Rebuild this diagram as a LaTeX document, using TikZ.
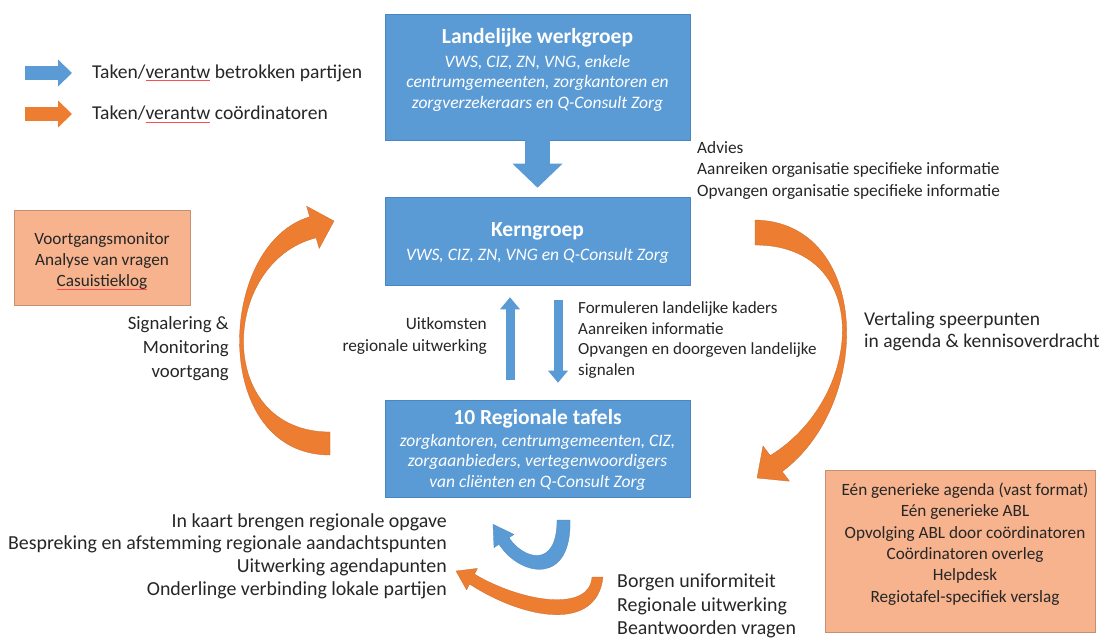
\documentclass[tikz,border=0pt]{standalone}
\usepackage{fontspec}
\setmainfont{Carlito}
\usetikzlibrary{arrows.meta,positioning}
\definecolor{kblue}{HTML}{5B9BD5}
\definecolor{kblueline}{HTML}{4A86C0}
\definecolor{korange}{HTML}{ED7D31}
\definecolor{ksalmon}{HTML}{F6B38E}
\definecolor{ktext}{HTML}{262626}
\newcommand{\spellmark}[1]{\setbox0=\hbox{#1}\rlap{\textcolor{red!70}{\rule[-3pt]{\wd0}{0.7pt}}}\box0\relax}
\tikzset{
  bluebox/.style={rectangle, draw=kblueline, line width=0.6pt, fill=kblue, minimum width=305pt, inner sep=0pt},
  boxtitle/.style={text=white, inner sep=0pt, font=\fontsize{21.5}{25}\selectfont\bfseries},
  boxsub/.style={text=white, align=center, inner sep=0pt, font=\fontsize{17.5}{20.5}\selectfont\itshape},
  salmonbox/.style={rectangle, draw=ksalmon!80!black, line width=0.4pt, fill=ksalmon, inner sep=0pt},
  salmontext/.style={text=ktext, align=center, inner sep=0pt, font=\fontsize{17.2}{21.3}\selectfont},
  smalltext/.style={text=ktext, inner sep=0pt, font=\fontsize{17.3}{21.5}\selectfont},
  bigtext/.style={text=ktext, inner sep=0pt, font=\fontsize{19.6}{23}\selectfont},
  bluearrow/.style={draw=kblue},
  orangearrow/.style={draw=korange},
  bluearc/.style={fill=kblue, draw=kblueline, line width=0.3pt},
  orangearc/.style={fill=korange, draw=korange!85!black, line width=0.3pt}
}

\begin{document}
\begin{tikzpicture}[x=1pt,y=-1pt]
\useasboundingbox (0,0) rectangle (1102,638);

% legenda
\coordinate (legblue-a) at (25,73);
\coordinate (legblue-b) at (72,73);
\coordinate (legorange-a) at (25,114);
\coordinate (legorange-b) at (72,114);
\draw[bluearrow, line width=14pt, -{Triangle[width=27pt,length=14pt,line width=0pt]}] (legblue-a) -- (legblue-b);
\draw[orangearrow, line width=14pt, -{Triangle[width=27pt,length=14pt,line width=0pt]}] (legorange-a) -- (legorange-b);
\node[bigtext, anchor=west, right=20pt of legblue-b] (legblue-t) {Taken/\spellmark{verantw} betrokken partijen};
\node[bigtext, anchor=west, right=20pt of legorange-b] (legorange-t) {Taken/\spellmark{verantw} coördinatoren};

% blauwe blokken
\node[bluebox, minimum height=126pt] (werkgroep) at (537.5,77) {};
\node[boxtitle] (werkgroep-t) at (537.5,38) {Landelijke werkgroep};
\node[boxsub] (werkgroep-s) at (537.5,83) {VWS, CIZ, ZN, VNG, enkele\\centrumgemeenten, zorgkantoren en\\zorgverzekeraars en Q-Consult Zorg};

\node[bluebox, minimum height=88pt] (kerngroep) at (537.5,241) {};
\node[boxtitle] (kerngroep-t) at (537.5,231) {Kerngroep};
\node[boxsub] (kerngroep-s) at (537.5,256) {VWS, CIZ, ZN, VNG en Q-Consult Zorg};

\node[bluebox, minimum height=97pt] (regio) at (537.5,448.5) {};
\node[boxtitle] (regio-t) at (537.5,419) {10 Regionale tafels};
\node[boxsub] (regio-s) at (537.5,462) {zorgkantoren, centrumgemeenten, CIZ,\\zorgaanbieders, vertegenwoordigers\\van cliënten en Q-Consult Zorg};

% oranje blokken
\node[salmonbox, minimum width=176pt, minimum height=95pt] (monitor) at (102,257.5) {};
\node[salmontext] (monitor-t) at (102,261) {Voortgangsmonitor\\Analyse van vragen\\\spellmark{Casuistieklog}};

\node[salmonbox, minimum width=270pt, minimum height=162pt] (afspraken) at (960,551) {};
\node[salmontext] (afspraken-t) at (965,544) {Eén generieke agenda (vast format)\\Eén generieke ABL\\Opvolging ABL door coördinatoren\\Coördinatoren overleg\\Helpdesk\\Regiotafel-specifiek verslag};

% rechte pijlen
\draw[bluearrow, line width=25pt, -{Triangle[width=50pt,length=24pt,line width=0pt]}, shorten >=9pt] (werkgroep.south) -- (kerngroep.north);
\draw[bluearrow, line width=9pt, -{Triangle[width=20pt,length=12pt,line width=0pt]}, shorten <=20pt, shorten >=12pt] ([xshift=-27.5pt]regio.north) -- ([xshift=-27.5pt]kerngroep.south);
\draw[bluearrow, line width=9pt, -{Triangle[width=20pt,length=12pt,line width=0pt]}, shorten <=15pt, shorten >=17pt] ([xshift=20.5pt]kerngroep.south) -- ([xshift=20.5pt]regio.north);

% gebogen pijlen
\filldraw[orangearc] (330,455) .. controls (210,455) and (215.8,244.9) .. (309.7,216.8)
  -- (306.6,206.2) -- (334,221) -- (319.2,248.4) -- (316.1,237.8)
  .. controls (220,262) and (214,432) .. (330,432) -- cycle;
\filldraw[orangearc] (755,220) .. controls (870,222) and (874.2,402.6) .. (782.2,471.6)
  -- (789.4,481.2) -- (757,478) -- (763,446) -- (770.2,455.6)
  .. controls (864,398) and (874,245) .. (755,245) -- cycle;
\filldraw[bluearc] (570,520) .. controls (572,585) and (521,577.7) .. (499,544.3)
  -- (494,547.6) -- (493,524.3) -- (514,534.4) -- (509,537.7)
  .. controls (522.75,558.6) and (557,570) .. (557,520) -- cycle;
\filldraw[orangearc] (603,577) .. controls (597,632) and (525,620) .. (469.5,584)
  -- (466.6,589.8) -- (456,571) -- (477.4,568.4) -- (474.5,574.2)
  .. controls (523.5,603) and (590,612) .. (592,577) -- cycle;

% teksten
\node[smalltext, anchor=west, align=left] (advies) at (697,170) {Advies\\Aanreiken organisatie specifieke informatie\\Opvangen organisatie specifieke informatie};
\node[smalltext, anchor=east, align=right] (uitkomsten) at (487,336) {Uitkomsten\\regionale uitwerking};
\node[smalltext, anchor=west, align=left, font=\fontsize{17}{20.7}\selectfont] (kaders) at (578,340) {Formuleren landelijke kaders\\Aanreiken informatie\\Opvangen en doorgeven landelijke\\signalen};
\node[bigtext, anchor=east, align=right, font=\fontsize{18.8}{24}\selectfont] (signalering) at (229,349) {Signalering \&\\Monitoring\\voortgang};
\node[bigtext, anchor=west, align=left, font=\fontsize{19.5}{22}\selectfont] (vertaling) at (864,331) {Vertaling speerpunten\\in agenda \& kennisoverdracht};
\node[bigtext, anchor=east, align=right, font=\fontsize{19.9}{22.7}\selectfont] (regiotaken) at (447,556) {In kaart brengen regionale opgave\\Bespreking en afstemming regionale aandachtspunten\\Uitwerking agendapunten\\Onderlinge verbinding lokale partijen};
\node[bigtext, anchor=west, align=left, font=\fontsize{19.9}{23.5}\selectfont] (borgen) at (617,606) {Borgen uniformiteit\\Regionale uitwerking\\Beantwoorden vragen};
\end{tikzpicture}
\end{document}
